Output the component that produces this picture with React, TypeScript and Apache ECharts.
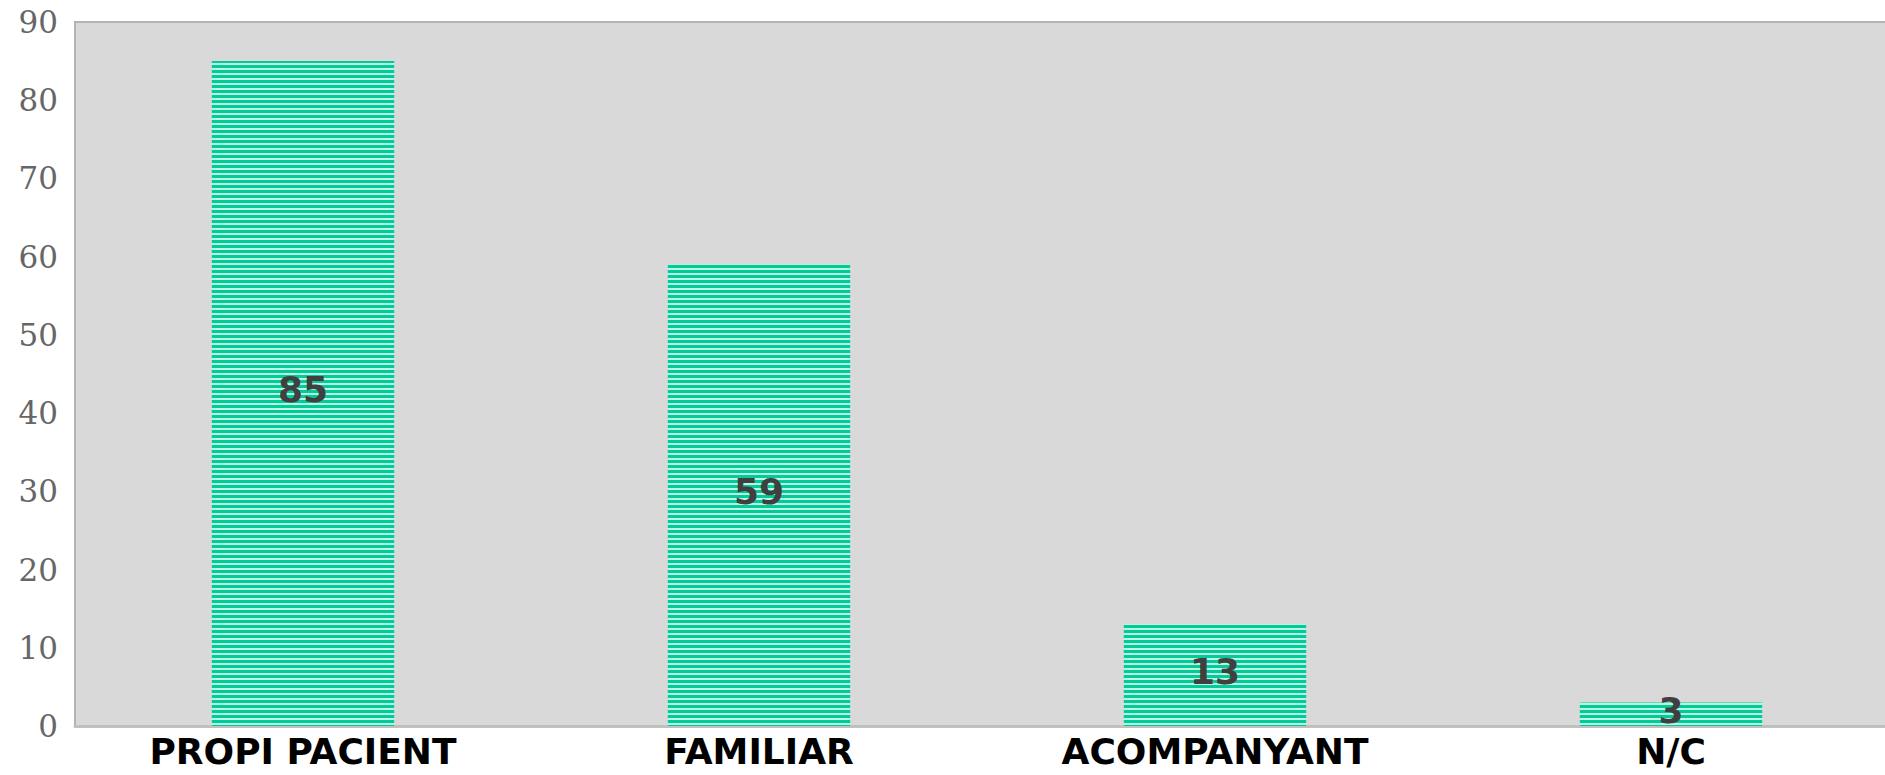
import React, { useEffect, useRef } from "react";
import * as echarts from "echarts";

const categories: string[] = ["PROPI PACIENT", "FAMILIAR", "ACOMPANYANT", "N/C"];
const values: number[] = [85, 59, 13, 3];

export default function App() {
  const ref = useRef<HTMLDivElement>(null);
  useEffect(() => {
    if (!ref.current) return;
    const chart = echarts.init(ref.current, undefined, { renderer: "svg" });
    chart.setOption({
      animation: false,
      grid: {
        left: 75,
        top: 22,
        bottom: 49,
        right: 1,
        show: true,
        backgroundColor: "#D9D9D9",
        borderColor: "#B3B3B3",
        borderWidth: 2,
      },
      xAxis: {
        type: "category",
        data: categories,
        axisLine: { show: true, lineStyle: { color: "#C0C0C0", width: 3 } },
        axisTick: { show: false },
        axisLabel: {
          color: "#000000",
          fontFamily: "DejaVu Sans",
          fontWeight: "bold",
          fontSize: 36,
          lineHeight: 28,
          margin: 11,
          interval: 0,
        },
      },
      yAxis: {
        type: "value",
        min: 0,
        max: 90,
        interval: 10,
        splitLine: { show: false },
        axisLine: { show: false },
        axisTick: { show: false },
        axisLabel: {
          color: "#666666",
          fontFamily: "DejaVu Serif",
          fontSize: 31,
          margin: 17,
        },
      },
      series: [
        {
          type: "bar",
          data: values,
          barWidth: "40%",
          itemStyle: {
            color: "#BDF4E2",
            decal: {
              symbol: "rect",
              symbolSize: 1,
              color: "#00CC99",
              dashArrayX: [1, 0],
              dashArrayY: [3, 2],
              rotation: 0,
            },
          },
          label: {
            show: true,
            position: "inside",
            offset: [0, -4],
            fontFamily: "DejaVu Sans",
            fontWeight: "bold",
            fontSize: 36,
            color: "#404040",
          },
        },
      ],
    });
    return () => chart.dispose();
  }, []);
  return (
    <div style={{ position: "fixed", left: 0, top: 0, width: 1885, height: 775, overflow: "hidden", background: "#ffffff" }}>
      <div ref={ref} style={{ position: "absolute", left: 0, top: 0, width: 1900, height: 775 }} />
    </div>
  );
}
